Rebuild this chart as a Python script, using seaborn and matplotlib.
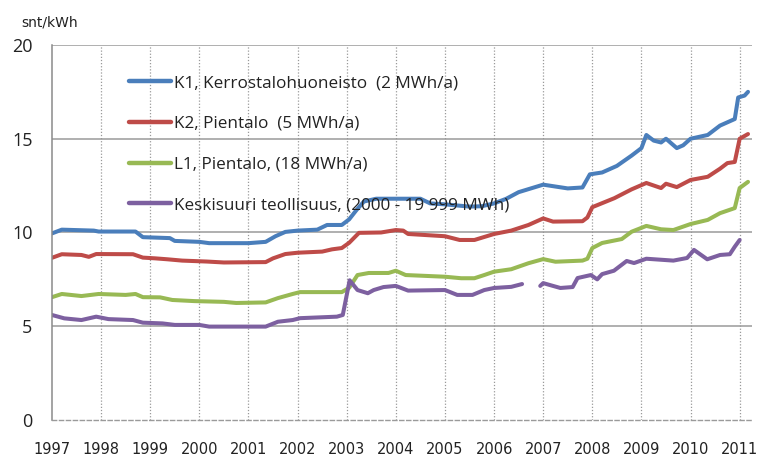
import pandas as pd
import numpy as np
import matplotlib.pyplot as plt
import seaborn as sns

# Hinnat snt/kWh, luettu kuvasta (vuosi, arvo)
k1_t = [1997.0, 1997.2, 1997.85, 1997.95, 1998.7, 1998.85, 1999.4, 1999.5, 2000.0, 2000.2, 2001.0, 2001.35,
        2001.55, 2001.75, 2002.0, 2002.4, 2002.6, 2002.9, 2003.05, 2003.2, 2003.35, 2003.6, 2004.5, 2004.7,
        2005.0, 2005.5, 2005.75, 2006.0, 2006.25, 2006.5, 2006.75, 2007.0, 2007.25, 2007.5, 2007.8, 2007.95,
        2008.2, 2008.5, 2008.8, 2009.0, 2009.1, 2009.25, 2009.4, 2009.5, 2009.72, 2009.85, 2010.0, 2010.35,
        2010.6, 2010.9, 2010.97, 2011.1, 2011.17]
k1_v = [9.95, 10.15, 10.1, 10.05, 10.05, 9.75, 9.7, 9.55, 9.5, 9.43, 9.43, 9.5,
        9.8, 10.03, 10.1, 10.15, 10.4, 10.4, 10.7, 11.2, 11.65, 11.8, 11.8, 11.55,
        11.5, 11.38, 11.4, 11.55, 11.8, 12.15, 12.35, 12.55, 12.45, 12.35, 12.4, 13.1,
        13.2, 13.55, 14.1, 14.5, 15.2, 14.9, 14.8, 15.0, 14.5, 14.65, 15.0, 15.2,
        15.7, 16.05, 17.2, 17.3, 17.5]

k2_t = [1997.0, 1997.2, 1997.6, 1997.75, 1997.9, 1998.65, 1998.85, 1999.1, 1999.35, 1999.65, 2000.15, 2000.5,
        2001.35, 2001.5, 2001.75, 2002.0, 2002.5, 2002.7, 2002.9, 2003.05, 2003.25, 2003.7, 2004.0, 2004.15,
        2004.25, 2005.0, 2005.3, 2005.6, 2006.0, 2006.35, 2006.7, 2007.0, 2007.2, 2007.8, 2007.9, 2008.0,
        2008.45, 2008.8, 2009.1, 2009.4, 2009.5, 2009.72, 2010.0, 2010.35, 2010.6, 2010.75, 2010.9, 2011.0,
        2011.17]
k2_v = [8.65, 8.84, 8.8, 8.7, 8.85, 8.84, 8.66, 8.62, 8.57, 8.5, 8.45, 8.4,
        8.42, 8.62, 8.85, 8.92, 8.98, 9.1, 9.17, 9.45, 9.98, 10.0, 10.13, 10.1,
        9.92, 9.8, 9.6, 9.6, 9.92, 10.1, 10.4, 10.75, 10.58, 10.6, 10.8, 11.35,
        11.83, 12.3, 12.64, 12.37, 12.6, 12.42, 12.8, 12.97, 13.4, 13.7, 13.76, 15.0,
        15.25]

l1_t = [1997.0, 1997.2, 1997.6, 1997.95, 1998.5, 1998.7, 1998.85, 1999.2, 1999.45, 1999.9, 2000.5, 2000.75,
        2001.35, 2001.6, 2001.9, 2002.05, 2002.9, 2003.05, 2003.22, 2003.45, 2003.85, 2004.0, 2004.2, 2005.0,
        2005.33, 2005.6, 2005.8, 2006.0, 2006.35, 2006.7, 2007.0, 2007.25, 2007.8, 2007.9, 2008.0, 2008.2,
        2008.6, 2008.8, 2009.1, 2009.4, 2009.65, 2010.0, 2010.35, 2010.6, 2010.9, 2011.0, 2011.17]
l1_v = [6.55, 6.72, 6.61, 6.72, 6.67, 6.72, 6.55, 6.54, 6.4, 6.34, 6.3, 6.24,
        6.27, 6.5, 6.72, 6.82, 6.82, 7.05, 7.73, 7.84, 7.84, 7.96, 7.73, 7.64,
        7.56, 7.56, 7.73, 7.91, 8.04, 8.36, 8.58, 8.44, 8.5, 8.6, 9.17, 9.44,
        9.65, 10.04, 10.35, 10.17, 10.13, 10.45, 10.67, 11.03, 11.3, 12.37, 12.7]

# Keskisuuri teollisuus: kaksi osaa, välissä puuttuvat arvot
ks_t1 = [1997.0, 1997.25, 1997.6, 1997.9, 1998.15, 1998.65, 1998.85, 1999.25, 1999.5, 2000.0, 2000.2, 2001.35,
         2001.6, 2001.9, 2002.05, 2002.8, 2002.92, 2003.06, 2003.22, 2003.43, 2003.55, 2003.75, 2004.0, 2004.25,
         2005.0, 2005.25, 2005.56, 2005.8, 2006.0, 2006.35, 2006.57]
ks_v1 = [5.6, 5.42, 5.33, 5.51, 5.38, 5.33, 5.19, 5.15, 5.07, 5.07, 4.98, 4.98,
         5.24, 5.33, 5.43, 5.51, 5.6, 7.45, 6.93, 6.76, 6.93, 7.09, 7.15, 6.9,
         6.93, 6.67, 6.67, 6.93, 7.04, 7.1, 7.25]
ks_t2 = [2006.94, 2007.0, 2007.2, 2007.35, 2007.6, 2007.7, 2007.97, 2008.1, 2008.2, 2008.44, 2008.7, 2008.85,
         2009.1, 2009.65, 2009.93, 2010.07, 2010.34, 2010.6, 2010.8, 2010.9, 2011.0]
ks_v2 = [7.15, 7.3, 7.15, 7.04, 7.09, 7.57, 7.73, 7.5, 7.78, 7.96, 8.48, 8.37,
         8.6, 8.5, 8.64, 9.07, 8.57, 8.8, 8.84, 9.24, 9.6]

labels = ['K1, Kerrostalohuoneisto  (2 MWh/a)', 'K2, Pientalo  (5 MWh/a)',
          'L1, Pientalo, (18 MWh/a)', 'Keskisuuri teollisuus, (2000 - 19 999 MWh)']
colors = ['#4A7EBB', '#BE4B48', '#98B954', '#7D60A0']
years = list(range(1997, 2012))

parts = [(labels[0], 0, k1_t, k1_v), (labels[1], 0, k2_t, k2_v), (labels[2], 0, l1_t, l1_v),
         (labels[3], 0, ks_t1, ks_v1), (labels[3], 1, ks_t2, ks_v2)]
df = pd.concat([pd.DataFrame({'vuosi': t, 'hinta': v, 'sarja': s, 'osa': o}) for s, o, t, v in parts],
               ignore_index=True)

sns.set_style('white')
plt.rcParams['font.family'] = ['DejaVu Sans']

fig = plt.figure(figsize=(7.6, 4.57), dpi=100)
ax = fig.add_axes([0.0684, 0.081, 0.921, 0.8206])

sns.lineplot(data=df, x='vuosi', y='hinta', hue='sarja', units='osa', estimator=None,
             hue_order=labels, palette=colors, linewidth=2.9, ax=ax, sort=False)

ax.set_xlim(1997, 2011.25)
ax.set_ylim(0, 20)
ax.set_xticks(years)
ax.set_yticks([0, 5, 10, 15, 20])
ax.set_xlabel('')
ax.set_ylabel('')

for y in [5, 10, 15, 20]:
    ax.axhline(y, color='#9a9a9a', lw=1.1, zorder=0)
for x in years[1:]:
    ax.axvline(x, color='#9a9a9a', lw=0.9, ls=(0, (1, 1.5)), zorder=0)

for s in ['top', 'right']:
    ax.spines[s].set_visible(False)
ax.spines['left'].set_color('#8a8a8a')
ax.spines['left'].set_linewidth(1.1)
ax.spines['bottom'].set_color('#9a9a9a')
ax.spines['bottom'].set_linestyle((0, (3, 2)))
ax.spines['bottom'].set_linewidth(1.0)

ax.tick_params(axis='x', direction='inout', length=5, color='#9a9a9a', pad=13, labelsize=10.5,
               labelcolor='#222222')
ax.tick_params(axis='y', direction='out', length=7, color='#9a9a9a', pad=7, labelsize=13,
               labelcolor='#222222')
for lab in ax.get_yticklabels():
    lab.set_family(['Open Sans', 'DejaVu Sans'])

leg = ax.legend(loc='upper left', bbox_to_anchor=(0.1, 0.938), frameon=False, fontsize=12.3,
                handlelength=2.45, handletextpad=0.22, labelspacing=1.45, borderaxespad=0)
for line in leg.get_lines():
    line.set_linewidth(3.2)
for txt in leg.get_texts():
    txt.set_family(['Open Sans', 'DejaVu Sans'])
    txt.set_color('#222222')

fig.text(0.028, 0.943, 'snt/kWh', fontsize=10, va='baseline', color='#222222')

fig.savefig('out.png', dpi=100)
